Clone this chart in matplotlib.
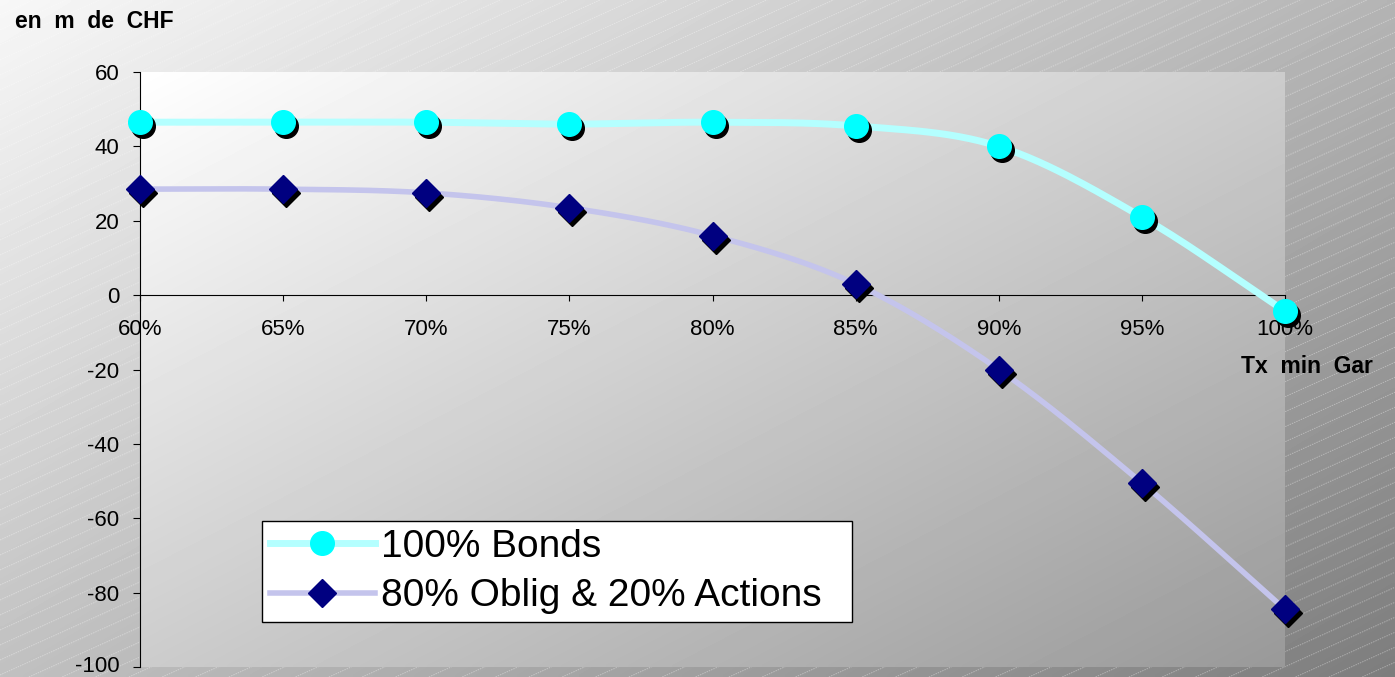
import numpy as np
import matplotlib.pyplot as plt
from matplotlib.transforms import offset_copy, ScaledTranslation

plt.rcParams.update({
    "font.family": ["Liberation Sans", "DejaVu Sans"],
    "axes.unicode_minus": False,
})

# categories and series values (millions CHF)
categories = ["60%", "65%", "70%", "75%", "80%", "85%", "90%", "95%", "100%"]
bonds = [46.5, 46.5, 46.5, 46.0, 46.5, 45.5, 40.0, 21.0, -4.3]
actions = [28.5, 28.5, 27.5, 23.5, 16.0, 3.0, -20.0, -50.5, -84.5]
yticks = [-100, -80, -60, -40, -20, 0, 20, 40, 60]

W, H = 1395, 677


def smooth(xs, ys, n=30):
    # Catmull-Rom curve through the points (like Excel "smoothed line")
    xs = np.asarray(xs, float)
    ys = np.asarray(ys, float)
    px = np.concatenate([[2 * xs[0] - xs[1]], xs, [2 * xs[-1] - xs[-2]]])
    py = np.concatenate([[2 * ys[0] - ys[1]], ys, [2 * ys[-1] - ys[-2]]])
    outx, outy = [], []
    t = np.linspace(0, 1, n)
    for i in range(1, len(px) - 2):
        for p, out in ((px, outx), (py, outy)):
            p0, p1, p2, p3 = p[i - 1], p[i], p[i + 1], p[i + 2]
            out.extend(0.5 * ((2 * p1) + (-p0 + p2) * t
                              + (2 * p0 - 5 * p1 + 4 * p2 - p3) * t ** 2
                              + (-p0 + 3 * p1 - 3 * p2 + p3) * t ** 3))
    return np.array(outx), np.array(outy)


fig = plt.figure(figsize=(W / 100, H / 100), dpi=100)

# figure background gradient + diagonal hatch
bg = fig.add_axes([0, 0, 1, 1], zorder=-10)
xn, yn = np.meshgrid(np.linspace(0, 1, 300), np.linspace(0, 1, 150))
bg.imshow(0.97 - 0.48 * (0.55 * xn + 0.45 * yn), cmap="gray", vmin=0, vmax=1,
          extent=[0, W, H, 0], aspect="auto", interpolation="bilinear")
for c in np.arange(0, H + 0.45 * W + 15, 15):
    bg.plot([0, W], [c, c - 0.45 * W], color="white", lw=0.7, alpha=0.35,
            ls=(0, (1.5, 1)))
bg.set_xlim(0, W)
bg.set_ylim(H, 0)
bg.axis("off")

left, right, top, bottom = 140, 1285, 72, 667
ax = fig.add_axes([left / W, 1 - bottom / H, (right - left) / W, (bottom - top) / H])
ax.set_xlim(0, 8)
ax.set_ylim(-100, 60)

# plot area gradient
gx, gy = np.meshgrid(np.linspace(0, 1, 300), np.linspace(0, 1, 150))
ax.imshow(1 - 0.4 * (0.5 * gx + 0.5 * gy), cmap="gray", vmin=0, vmax=1,
          extent=[0, 8, -100, 60], aspect="auto", interpolation="bilinear",
          zorder=0)

x = np.arange(len(categories))
shadow = offset_copy(ax.transData, fig=fig, x=3, y=-4, units="dots")

sx, sy = smooth(x, bonds)
ax.plot(sx, sy, color="#b4ffff", lw=5, zorder=3, solid_capstyle="butt")
sx2, sy2 = smooth(x, actions)
ax.plot(sx2, sy2, color="#c4c4ec", lw=4, zorder=3, solid_capstyle="butt")

ax.plot(x, bonds, "o", ms=17, color="black", transform=shadow, zorder=4, clip_on=False)
ax.plot(x, bonds, "o", ms=17, color="#00ffff", zorder=5, clip_on=False)
ax.plot(x, actions, "D", ms=14, color="black", transform=shadow, zorder=4, clip_on=False)
ax.plot(x, actions, "D", ms=14, color="#000080", zorder=5, clip_on=False)

ax.spines["top"].set_visible(False)
ax.spines["right"].set_visible(False)
ax.spines["bottom"].set_position(("data", 0))
ax.spines["bottom"].set_zorder(2)
ax.set_xticks(x)
ax.set_xticklabels(categories)
ax.set_yticks(yticks)
ax.tick_params(axis="x", direction="out", length=4, pad=13, labelsize=16)
ax.tick_params(axis="y", direction="out", length=5, pad=10, labelsize=16)
# lift the -100 label a little so it stays inside the picture
lbl = ax.get_yticklabels()[0]
lbl.set_transform(lbl.get_transform() + ScaledTranslation(0, 2 / 72, fig.dpi_scale_trans))

# legend
h1, = ax.plot([], [], color="#b4ffff", lw=5, marker="o", ms=17,
              markerfacecolor="#00ffff", markeredgecolor="#00ffff")
h2, = ax.plot([], [], color="#c4c4ec", lw=4, marker="D", ms=14,
              markerfacecolor="#000080", markeredgecolor="#000080")
leg = fig.legend([h1, h2], ["100% Bonds", "80% Oblig & 20% Actions"],
                 loc="upper left", mode="expand",
                 bbox_to_anchor=(262 / W, 1 - 623 / H, 590 / W, 102 / H),
                 borderaxespad=0, fontsize=28, fancybox=False, framealpha=1,
                 edgecolor="black", handlelength=2.7, handletextpad=0.15,
                 borderpad=0.2, labelspacing=0.35)
leg.get_frame().set_linewidth(1)

fig.text(15 / W, 1 - 22 / H, "en  m  de  CHF", fontsize=16.5, fontweight="bold",
         va="center", ha="left")
fig.text(1307 / W, 1 - 367 / H, "Tx  min  Gar", fontsize=16.5, fontweight="bold",
         va="center", ha="center")

fig.savefig("out.png", dpi=100)
